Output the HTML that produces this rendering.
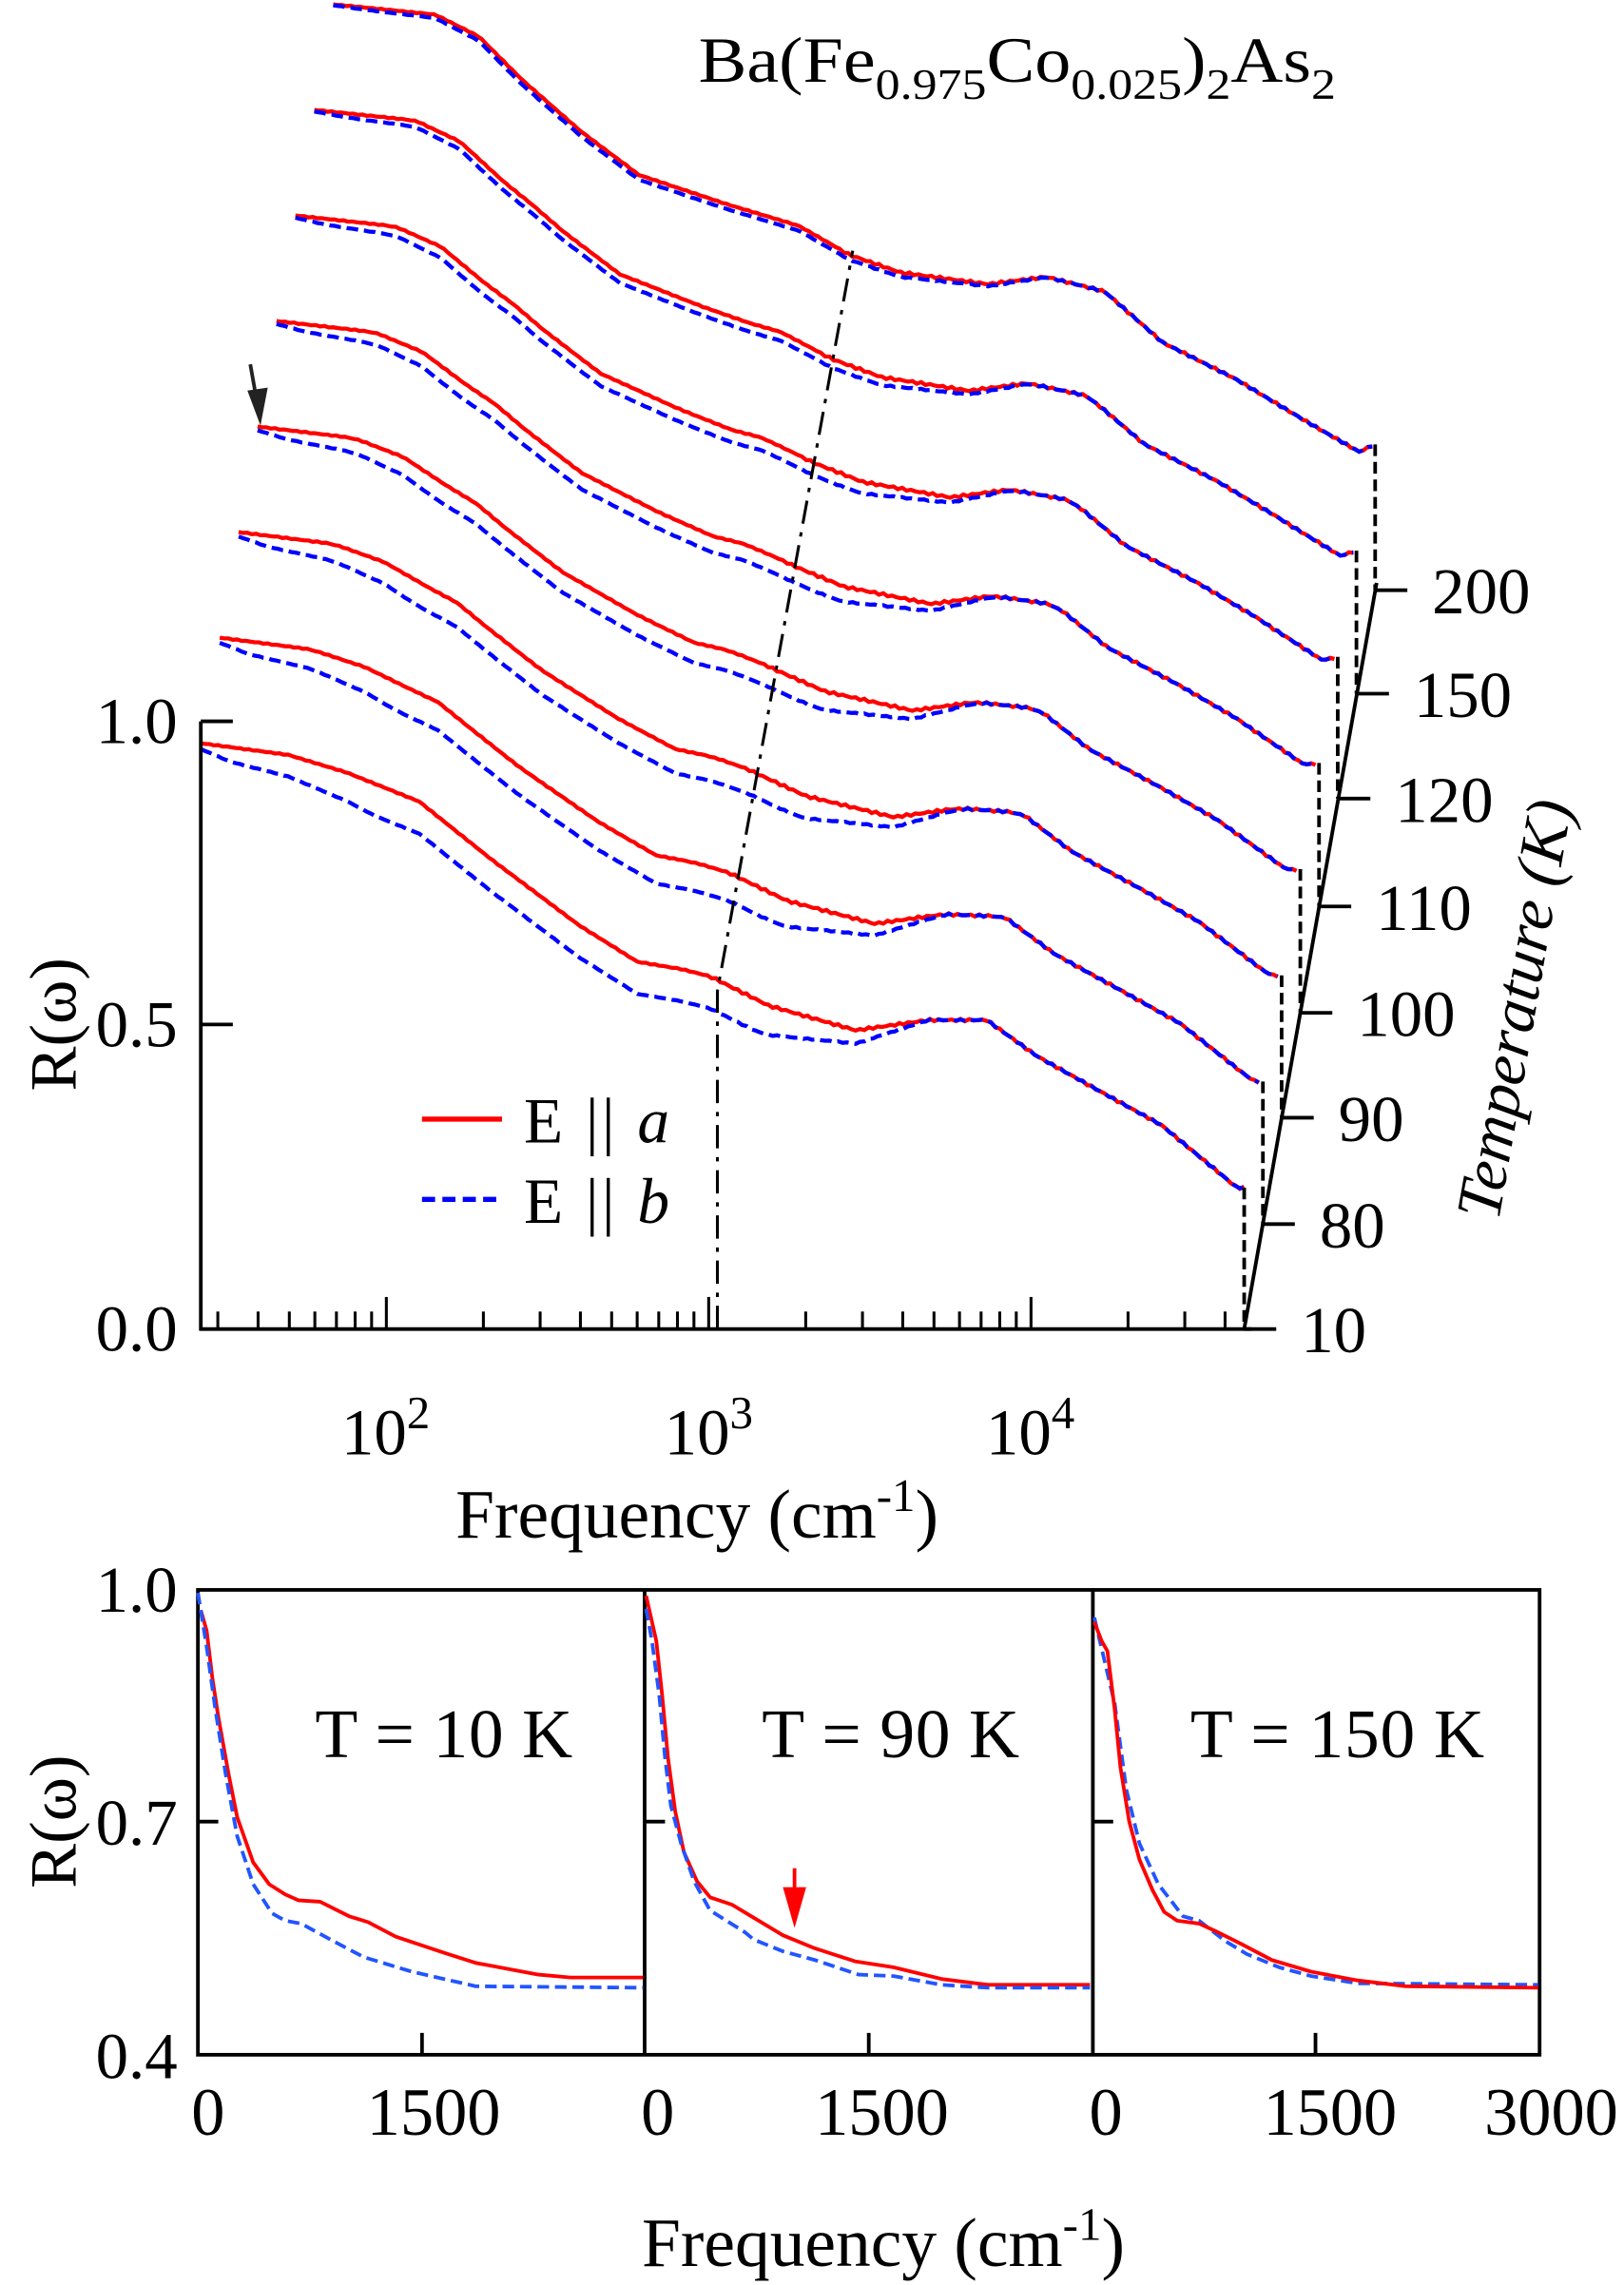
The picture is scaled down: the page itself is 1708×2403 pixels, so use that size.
<!DOCTYPE html>
<html><head><meta charset="utf-8">
<style>
html,body{margin:0;padding:0;background:#fff;}
svg{display:block;}
text{font-family:"Liberation Serif",serif;fill:#000;}
</style></head>
<body>
<svg id="s" width="1708" height="2403" viewBox="0 0 1116 1568" preserveAspectRatio="none" xmlns="http://www.w3.org/2000/svg">
<rect width="1116" height="1568" fill="#fff"/>
<g id="main"></g>
<g stroke="#000" stroke-width="2.5" fill="none">
<line x1="138" y1="495" x2="138" y2="913"/>
<line x1="137" y1="912" x2="860" y2="912"/>
<line x1="138" y1="495" x2="160" y2="495"/>
<line x1="138" y1="703" x2="160" y2="703"/>
<line x1="855" y1="912" x2="946" y2="400"/>
<path d="M493,912 L493,680 L586,172" stroke-dasharray="16,6,3,6" stroke-width="2"/>
</g>
<g id="ticks" stroke="#000" stroke-width="2"></g>
<g font-size="45">
<text x="122" y="510" text-anchor="end">1.0</text>
<text x="122" y="718" text-anchor="end">0.5</text>
<text x="122" y="927" text-anchor="end">0.0</text>
<text x="265" y="998" text-anchor="middle">10<tspan dy="-18" font-size="32">2</tspan></text>
<text x="487" y="998" text-anchor="middle">10<tspan dy="-18" font-size="32">3</tspan></text>
<text x="708" y="998" text-anchor="middle">10<tspan dy="-18" font-size="32">4</tspan></text>
<text x="479" y="1055" text-anchor="middle" font-size="48">Frequency (cm<tspan dy="-18" font-size="32">-1</tspan><tspan dy="18">)</tspan></text>
<text transform="translate(52,703) rotate(-90)" text-anchor="middle" font-size="46">R(ω)</text>
<text x="480" y="56" font-size="44" textLength="438" lengthAdjust="spacingAndGlyphs">Ba(Fe<tspan dy="12" font-size="30">0.975</tspan><tspan dy="-12">Co</tspan><tspan dy="12" font-size="30">0.025</tspan><tspan dy="-12">)</tspan><tspan dy="12" font-size="30">2</tspan><tspan dy="-12">As</tspan><tspan dy="12" font-size="30">2</tspan></text>
<text transform="translate(1055,695) rotate(-80)" text-anchor="middle" font-size="44" font-style="italic">Temperature (K)</text>
</g>
<g id="tlab" font-size="45"></g>
<line x1="290" y1="768" x2="345" y2="768" stroke="#f00" stroke-width="3.5"/>
<line x1="290" y1="823" x2="345" y2="823" stroke="#00f" stroke-width="3.5" stroke-dasharray="9,5"/>
<text x="360" y="784" font-size="44" textLength="100" lengthAdjust="spacing">E || <tspan font-style="italic">a</tspan></text>
<text x="360" y="839" font-size="44" textLength="100" lengthAdjust="spacing">E || <tspan font-style="italic">b</tspan></text>
<line x1="172" y1="250" x2="177" y2="278" stroke="#222" stroke-width="2.5"/>
<polygon points="170,268 184,266 179,292" fill="#222"/>

<g stroke="#000" stroke-width="2.5" fill="none">
<rect x="136" y="1091" width="922" height="319"/>
<line x1="443" y1="1091" x2="443" y2="1410"/>
<line x1="751" y1="1091" x2="751" y2="1410"/>
<line x1="136" y1="1250" x2="150" y2="1250"/>
<line x1="443" y1="1250" x2="457" y2="1250"/>
<line x1="751" y1="1250" x2="765" y2="1250"/>
<line x1="290" y1="1410" x2="290" y2="1395"/>
<line x1="597" y1="1410" x2="597" y2="1395"/>
<line x1="904" y1="1410" x2="904" y2="1395"/>
</g>
<g fill="none" stroke-width="2.5" stroke-linejoin="round">
<polyline stroke="#f00" points="138,1105 142,1119 146,1152 150,1178 157,1217 163,1247 174,1278 185,1293 196,1300 205,1304 220,1305 240,1315 253,1319 272,1329 305,1340 327,1347 370,1355 392,1357 442,1357"/>
<polyline stroke="#2255ff" stroke-dasharray="8,4" points="136,1093 142,1130 148,1173 155,1217 163,1260 174,1293 187,1313 196,1318 207,1320 229,1332 250,1343 283,1353 327,1363 442,1364"/>
<polyline stroke="#f00" points="444,1095 451,1126 455,1163 459,1206 464,1243 470,1271 479,1291 488,1302 503,1307 518,1316 538,1328 560,1337 588,1346 614,1350 647,1358 679,1362 749,1362"/>
<polyline stroke="#2255ff" stroke-dasharray="8,4" points="444,1104 448,1126 453,1163 457,1206 461,1239 468,1265 477,1291 488,1311 512,1326 518,1331 538,1339 560,1345 590,1355 614,1356 647,1362 679,1364 749,1364"/>
<polyline stroke="#2255ff" stroke-dasharray="8,4" points="752,1110 766,1169 774,1228 783,1265 796,1293 813,1315 824,1318 842,1332 857,1341 879,1350 901,1356 933,1361 1057,1362"/>
<polyline stroke="#f00" points="752,1113 757,1126 761,1133 766,1173 770,1213 776,1250 783,1276 792,1297 800,1312 809,1318 824,1320 835,1325 853,1334 874,1345 901,1353 933,1359 966,1363 1057,1364"/>
</g>
<line x1="546" y1="1282" x2="546" y2="1298" stroke="#f00" stroke-width="2.5"/>
<polygon points="538,1295 554,1295 546,1323" fill="#f00"/>
<g font-size="46">
<text x="305" y="1206" text-anchor="middle" font-size="48" textLength="177" lengthAdjust="spacing">T = 10 K</text>
<text x="612" y="1206" text-anchor="middle" font-size="48" textLength="177" lengthAdjust="spacing">T = 90 K</text>
<text x="919" y="1206" text-anchor="middle" font-size="48" textLength="202" lengthAdjust="spacing">T = 150 K</text>
<text x="122" y="1106" text-anchor="end" font-size="45">1.0</text>
<text x="122" y="1266" text-anchor="end" font-size="45">0.7</text>
<text x="122" y="1426" text-anchor="end" font-size="45">0.4</text>
<text x="143" y="1465" text-anchor="middle">0</text>
<text x="298" y="1465" text-anchor="middle">1500</text>
<text x="452" y="1465" text-anchor="middle">0</text>
<text x="606" y="1465" text-anchor="middle">1500</text>
<text x="760" y="1465" text-anchor="middle">0</text>
<text x="914" y="1465" text-anchor="middle">1500</text>
<text x="1066" y="1465" text-anchor="middle">3000</text>
<text transform="translate(52,1250) rotate(-90)" text-anchor="middle">R(ω)</text>
<text x="607" y="1555" text-anchor="middle" font-size="48">Frequency (cm<tspan dy="-18" font-size="32">-1</tspan><tspan dy="18">)</tspan></text>
</g>
</svg>
<script>
(function(){
var NS="http://www.w3.org/2000/svg";
function el(p,t,a){var e=document.createElementNS(NS,t);for(var k in a)e.setAttribute(k,a[k]);p.appendChild(e);return e;}
var main=document.getElementById('main');
var bot={x:[0,60,100,150,200,260,300,330,350,390,450,500,540,575,620,660,700,712,717],
 y:[0,8,20,40,80,125,150,155,160,180,197,190,190,215,240,262,295,305,305]};
var top={x:[0,70,100,130,170,210,270,320,355,390,450,490,530,570,620,670,705,716],
 y:[-3,4,19,49,84,114,134,149,169,181,189,184,194,229,254,284,304,299]};
function interp(c,x){var X=c.x,Y=c.y;if(x<=X[0])return Y[0];for(var i=1;i<X.length;i++){if(x<=X[i]){var t=(x-X[i-1])/(X[i]-X[i-1]);return Y[i-1]+t*(Y[i]-Y[i-1]);}}return Y[Y.length-1];}
function gap(dx){if(dx<20)return 4+dx*0.3;if(dx<120)return 10+(dx-20)*0.12;if(dx<380)return 22;if(dx<500)return 22*(500-dx)/120;return 0;}
var tys=[912,840,767,695,622,548,476,405],tl=["10","80","90","100","110","120","150","200"];
var tg=document.getElementById('tlab');
for(var i=0;i<8;i++){
 var f=i/7,x0=138+13*i,y0=510-72*i,L=717-f*1;
 var r=[],b=[];
 for(var dx=0;dx<=L;dx+=3){
  var y=(1-f)*interp(bot,dx)+f*interp(top,dx);
  var w=Math.sin(dx*0.9)*0.8*(dx>350?1:0.4);
  var g=gap(dx)*(1-0.85*f);
  r.push((x0+dx).toFixed(1)+","+(y0+y+w).toFixed(1));
  b.push((x0+dx).toFixed(1)+","+(y0+y+g+w*0.5).toFixed(1));
 }
 var ex=x0+L,ey=y0+(1-f)*interp(bot,L)+f*interp(top,L);
 el(main,'polyline',{points:r.join(" "),fill:"none",stroke:"#f00","stroke-width":2.8});
 el(main,'polyline',{points:b.join(" "),fill:"none",stroke:"#00f","stroke-width":2.8,"stroke-dasharray":"8,4"});
 el(main,'line',{x1:ex,y1:ey,x2:ex,y2:tys[i],stroke:"#000","stroke-width":2.5,"stroke-dasharray":"8,4"});
 var ax=855+(912-tys[i])*91/512;
 el(tg,'line',{x1:ax,y1:tys[i],x2:ax+22,y2:tys[i],stroke:"#000","stroke-width":2.5});
 var t=el(tg,'text',{x:ax+39,y:tys[i]+16});t.textContent=tl[i];
}
var tk=document.getElementById('ticks');
var lx=function(v){return 487+221.5*(Math.log10(v)-3);};
for(var d=1;d<=5;d++){for(var m=1;m<10;m++){var v=m*Math.pow(10,d);var x=lx(v);if(x<140||x>855)continue;
 var len=(m==1)?22:12;el(tk,'line',{x1:x,y1:912,x2:x,y2:912-len});}}
})();
</script>
</body></html>
